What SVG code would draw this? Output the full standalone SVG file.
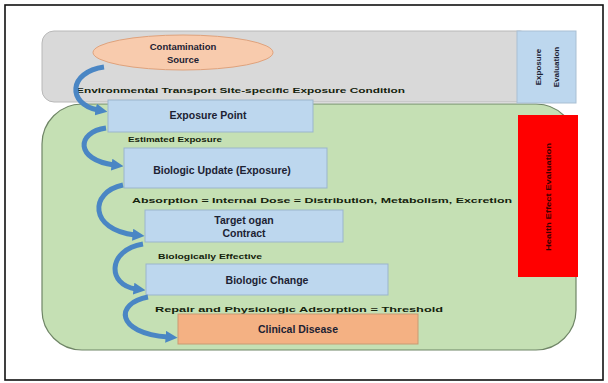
<svg xmlns="http://www.w3.org/2000/svg" width="608" height="383" viewBox="0 0 608 383">
<defs>
<marker id="ah" viewBox="0 0 10 10" refX="2" refY="5" markerWidth="12" markerHeight="12" markerUnits="userSpaceOnUse" orient="auto">
<path d="M0,0 L10,5 L0,10 z" fill="#4a86c4"/>
</marker>
<style>
.box{fill:#bdd7ee;stroke:#9bb5cc;stroke-width:1}
.bt{font-family:"Liberation Sans",Arial,sans-serif;font-weight:bold;font-size:10.5px;fill:#1c2233;text-anchor:middle}
.ct{font-family:"Liberation Sans",Arial,sans-serif;font-weight:bold;font-size:9.5px;fill:#1c2233;text-anchor:middle}
.lb{font-family:"Liberation Sans",Arial,sans-serif;font-weight:bold;font-size:8px;fill:#14220c}
.arr{fill:none;stroke:#4a86c4;stroke-width:5;marker-end:url(#ah)}
.vt{font-family:"Liberation Sans",Arial,sans-serif;font-weight:bold;font-size:8px;text-anchor:middle}
</style>
</defs>
<rect x="0" y="0" width="608" height="383" fill="#ffffff"/>
<rect x="5" y="5" width="598" height="375" fill="none" stroke="#111" stroke-width="1.6"/>

<g id="health-region">
<rect x="42" y="104" width="534" height="246" rx="40" ry="40" fill="#c5e0b4" stroke="#6f8566" stroke-width="1.2"/>
</g>
<g id="exposure-region">
<rect x="42" y="31" width="490" height="71" rx="12" ry="12" fill="#d9d9d9" stroke="#b8b8b8" stroke-width="1"/>
</g>
<g id="exposure-evaluation">
<rect x="517" y="31" width="59" height="72" fill="#bdd7ee" stroke="#a9bfd3" stroke-width="1"/>
<text class="vt" fill="#1c2233" transform="translate(541,67) rotate(-90)">Exposure</text>
<text class="vt" fill="#1c2233" transform="translate(559,67) rotate(-90)">Evaluation</text>
</g>
<g id="health-effect-evaluation">
<rect x="518" y="115" width="60" height="162" fill="#ff0000"/>
<text class="vt" fill="#3a0000" transform="translate(551,197) rotate(-90)" textLength="108" lengthAdjust="spacingAndGlyphs">Health Effect Evaluation</text>
</g>

<g id="contamination-source">
<ellipse cx="183" cy="52.5" rx="90" ry="17.5" fill="#f8cbad" stroke="#dfa27c" stroke-width="1"/>
<text class="ct" x="183" y="50">Contamination</text>
<text class="ct" x="183" y="63">Source</text>
</g>

<g id="labels">
<text class="lb" x="76" y="93" textLength="329" lengthAdjust="spacingAndGlyphs">Environmental Transport Site-specific Exposure Condition</text>
<text class="lb" x="128" y="142" textLength="94" lengthAdjust="spacingAndGlyphs">Estimated Exposure</text>
<text class="lb" x="132" y="203" textLength="380" lengthAdjust="spacingAndGlyphs">Absorption = Internal Dose = Distribution, Metabolism, Excretion</text>
<text class="lb" x="158" y="259" textLength="104" lengthAdjust="spacingAndGlyphs">Biologically Effective</text>
<text class="lb" x="155" y="312" textLength="288" lengthAdjust="spacingAndGlyphs">Repair and Physiologic Adsorption = Threshold</text>
</g>

<g id="exposure-point">
<rect class="box" x="108" y="100" width="205" height="32"/>
<text class="bt" x="208" y="119">Exposure Point</text>
</g>
<g id="biologic-update">
<rect class="box" x="124" y="148" width="203" height="40"/>
<text class="bt" x="222" y="174">Biologic Update (Exposure)</text>
</g>
<g id="target-organ">
<rect class="box" x="145" y="210" width="198" height="32"/>
<text class="bt" x="244" y="224">Target ogan</text>
<text class="bt" x="244" y="237">Contract</text>
</g>
<g id="biologic-change">
<rect class="box" x="146" y="264" width="242" height="31"/>
<text class="bt" x="267" y="284">Biologic Change</text>
</g>
<g id="clinical-disease">
<rect x="178" y="314" width="240" height="30" fill="#f4b183" stroke="#c99a72" stroke-width="1"/>
<text class="bt" x="298" y="333">Clinical Disease</text>
</g>

<g id="connectors">
<path class="arr" d="M104,67 C68,72 67,104 98,110"/>
<path class="arr" d="M106,128 C76,132 75,160 114,165"/>
<path class="arr" d="M123,185 C89,192 89,230 135,235"/>
<path class="arr" d="M143,244 C107,250 107,285 136,289"/>
<path class="arr" d="M148,297 C115,303 115,333 168,337"/>
</g>
</svg>
